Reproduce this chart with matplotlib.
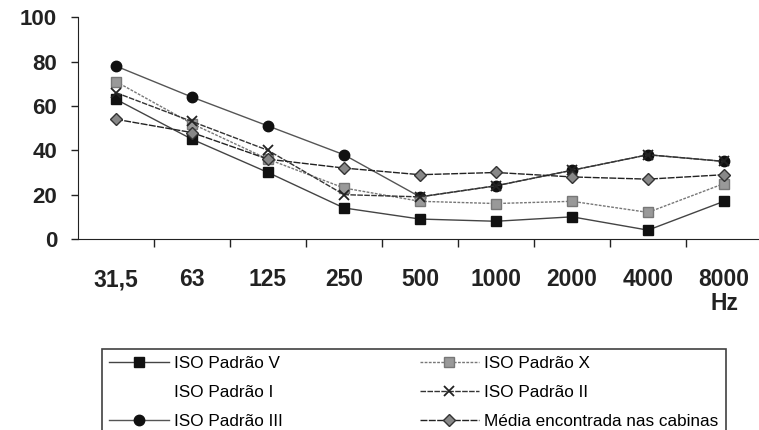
import numpy as np
import matplotlib
matplotlib.use("Agg")
import matplotlib.pyplot as plt

plt.rcParams['font.family'] = ['Liberation Sans', 'DejaVu Sans']

# frequencias (Hz) e niveis de cada curva
freqs = ['31,5', '63', '125', '250', '500', '1000', '2000', '4000', '8000']
iso_v = [63, 45, 30, 14, 9, 8, 10, 4, 17]
iso_i = [60, 46, 31, 20, 15, 13, 13, 15, 21]   # curva branca, nao aparece
iso_iii = [78, 64, 51, 38, 19, 24, 31, 38, 35]
iso_x = [71, 52, 36, 23, 17, 16, 17, 12, 25]
iso_ii = [66, 53, 40, 20, 19, 24, 31, 38, 35]
media = [54, 48, 36, 32, 29, 30, 28, 27, 29]

fig = plt.figure(figsize=(7.59, 4.30), dpi=100)
ax = fig.add_axes([78/759, 191/430, 684/759, 221.7/430])

x = np.arange(len(freqs))

l_v, = ax.plot(x, iso_v, color='#444444', lw=1, marker='s', ms=7,
               mfc='#111111', mec='#111111', label='ISO Padrão V')
l_i, = ax.plot(x, iso_i, color='white', lw=1, label='ISO Padrão I', zorder=1)
l_iii, = ax.plot(x, iso_iii, color='#555555', lw=1, marker='o', ms=7.5,
                 mfc='#111111', mec='#111111', label='ISO Padrão III')
l_x, = ax.plot(x, iso_x, color='#777777', lw=1, ls=(0, (2, 1)), marker='s', ms=7,
               mfc='#999999', mec='#777777', label='ISO Padrão X')
l_ii, = ax.plot(x, iso_ii, color='#333333', lw=1, ls=(0, (4, 1)), marker='x', ms=7,
                mew=1.3, mec='#222222', label='ISO Padrão II')
l_m, = ax.plot(x, media, color='#222222', lw=1, ls=(0, (5, 1)), marker='D', ms=6.5,
               mfc='#888888', mec='#333333', label='Média encontrada nas cabinas')

ax.set_xlim(-0.5, len(freqs) - 0.5)
ax.set_ylim(0, 100)
ax.set_yticks([0, 20, 40, 60, 80, 100])
ax.set_xticks(x)
ax.set_xticklabels(freqs)
ax.set_xticks(np.arange(0.5, len(freqs), 1), minor=True)

for s in ['top', 'right']:
    ax.spines[s].set_visible(False)
ax.spines['left'].set_color('#222222')
ax.spines['bottom'].set_color('#222222')

ax.tick_params(axis='y', direction='out', length=5, width=1, pad=10,
               labelsize=16, colors='#222222')
ax.tick_params(axis='x', which='major', length=0, pad=21, labelsize=16.5,
               colors='#222222')
ax.tick_params(axis='x', which='minor', direction='out', length=6, width=1,
               colors='#222222')
for lab in ax.get_xticklabels() + ax.get_yticklabels():
    lab.set_fontweight('bold')

fig.text(725/759, 1 - 303/430, 'Hz', fontsize=16.5, fontweight='bold',
         ha='center', va='center', color='#222222')

leg = fig.legend(handles=[l_v, l_i, l_iii, l_x, l_ii, l_m],
                 ncol=2, loc='upper left', bbox_to_anchor=(102/759, 1 - 349/430),
                 frameon=True, fancybox=False, fontsize=12.3, handlelength=3.5,
                 handletextpad=0.3, columnspacing=8.0, labelspacing=0.8,
                 borderpad=0.42, borderaxespad=0)
leg.get_frame().set_edgecolor('#111111')
leg.get_frame().set_linewidth(1.2)

fig.savefig('out.png', dpi=100)
